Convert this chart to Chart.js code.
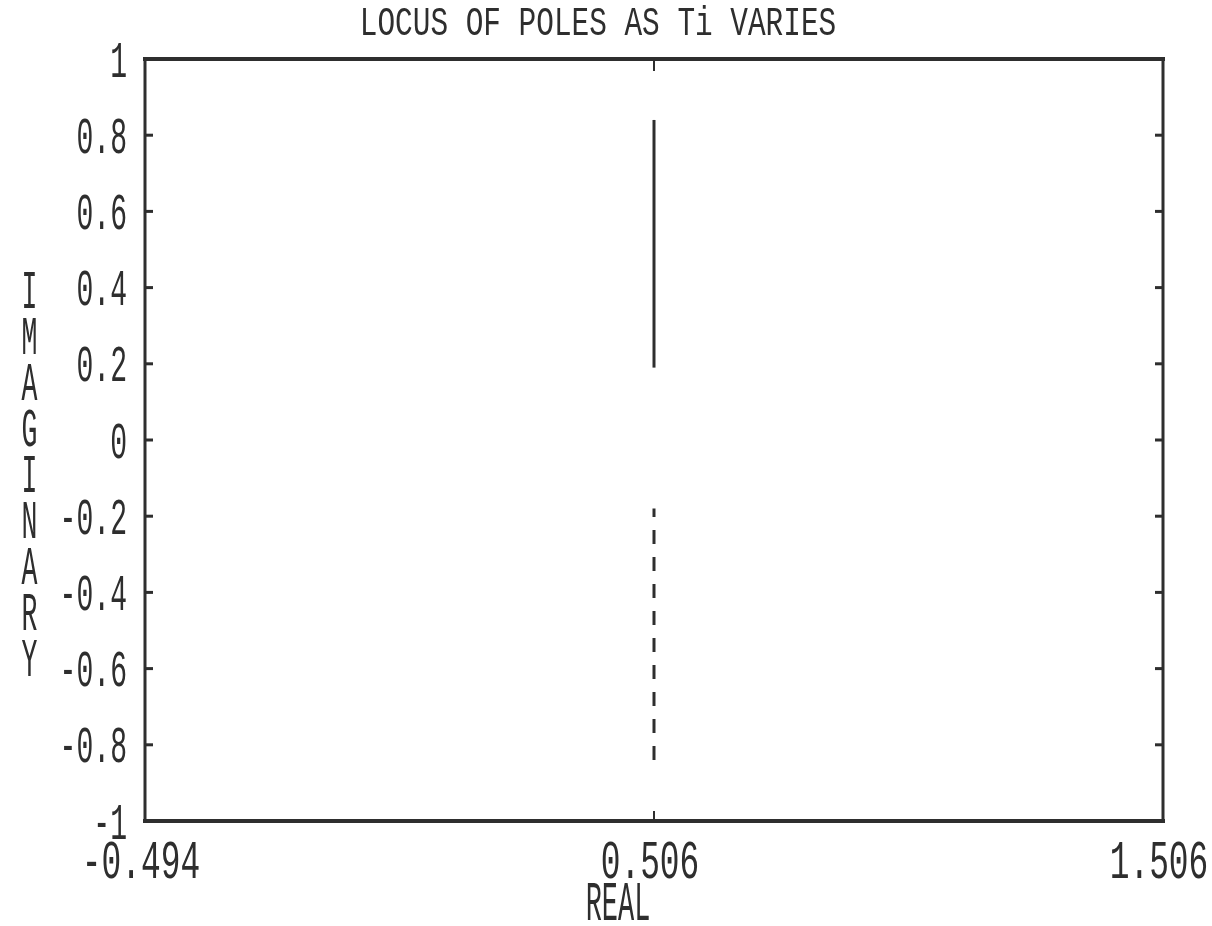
<!DOCTYPE html>
<html>
<head>
<meta charset="utf-8">
<script src="https://cdn.jsdelivr.net/npm/chart.js@4/dist/chart.umd.min.js"></script>
<style>
  html, body { margin: 0; padding: 0; background: #ffffff; }
  #wrap { width: 1212px; height: 926px; position: relative; }
</style>
</head>
<body>
<div id="wrap"><canvas id="locus"></canvas></div>
<script>
// Root locus data: real part is fixed, imaginary part sweeps as Ti varies
const titleText = 'LOCUS OF POLES AS Ti VARIES';
const xAxisTitle = 'REAL';
const yAxisTitle = 'IMAGINARY';

const upperReal = [0.506, 0.506];
const upperImag = [0.19, 0.84];
const lowerReal = [0.506, 0.506];
const lowerImag = [-0.84, -0.18];

const xTickValues = [-0.494, 0.506, 1.506];
const xTickLabels = ['-0.494', '0.506', '1.506'];
const yTickValues = [-1, -0.8, -0.6, -0.4, -0.2, 0, 0.2, 0.4, 0.6, 0.8, 1];
const yTickLabels = ['-1', '-0.8', '-0.6', '-0.4', '-0.2', '0', '0.2', '0.4', '0.6', '0.8', '1'];

const ink = '#2e2e2e';
const mono = '"Liberation Mono", "DejaVu Sans Mono", monospace';

// Draw condensed plotter-style text
function plotText(ctx, text, x, y, size, sx, align) {
  ctx.save();
  ctx.translate(x, y);
  ctx.scale(sx, 1);
  ctx.font = size + 'px ' + mono;
  ctx.textAlign = align;
  ctx.textBaseline = 'alphabetic';
  ctx.fillStyle = ink;
  ctx.fillText(text, 0, 0);
  ctx.restore();
}

// Frame, inward tick marks and all lettering, placed from the chart's scales
const plotterFrame = {
  id: 'plotterFrame',
  afterDatasetsDraw(chart) {
    const ctx = chart.ctx;
    const a = chart.chartArea;
    const xs = chart.scales.x;
    const ys = chart.scales.y;

    ctx.save();
    ctx.strokeStyle = ink;
    ctx.lineCap = 'square';
    // box
    ctx.lineWidth = 4;
    ctx.beginPath(); ctx.moveTo(a.left, a.top); ctx.lineTo(a.right, a.top); ctx.stroke();
    ctx.beginPath(); ctx.moveTo(a.left, a.bottom); ctx.lineTo(a.right, a.bottom); ctx.stroke();
    ctx.lineWidth = 3;
    ctx.beginPath(); ctx.moveTo(a.left, a.top); ctx.lineTo(a.left, a.bottom); ctx.stroke();
    ctx.beginPath(); ctx.moveTo(a.right, a.top); ctx.lineTo(a.right, a.bottom); ctx.stroke();

    // y ticks on both sides
    ctx.lineWidth = 3;
    ctx.lineCap = 'butt';
    yTickValues.forEach(v => {
      if (v === ys.min || v === ys.max) return;
      const py = ys.getPixelForValue(v);
      ctx.beginPath(); ctx.moveTo(a.left, py); ctx.lineTo(a.left + 8, py); ctx.stroke();
      ctx.beginPath(); ctx.moveTo(a.right - 8, py); ctx.lineTo(a.right, py); ctx.stroke();
    });
    // x ticks on top and bottom
    ctx.lineWidth = 2;
    xTickValues.forEach(v => {
      if (v === xs.min || v === xs.max) return;
      const px = xs.getPixelForValue(v);
      ctx.beginPath(); ctx.moveTo(px, a.top); ctx.lineTo(px, a.top + 12); ctx.stroke();
      ctx.beginPath(); ctx.moveTo(px, a.bottom); ctx.lineTo(px, a.bottom - 10); ctx.stroke();
    });
    ctx.restore();

    // tick labels
    yTickValues.forEach((v, i) => {
      const py = ys.getPixelForValue(v);
      plotText(ctx, yTickLabels[i], a.left - 18, py + 17.5, 52, 0.54, 'right');
    });
    xTickValues.forEach((v, i) => {
      const px = xs.getPixelForValue(v);
      plotText(ctx, xTickLabels[i], px - 4, a.bottom + 57, 53, 0.62, 'center');
    });

    // titles
    plotText(ctx, titleText, 598, 35, 40, 0.735, 'center');
    plotText(ctx, xAxisTitle, 618, 920, 56, 0.48, 'center');
    const letters = yAxisTitle.split('');
    letters.forEach((ch, i) => {
      plotText(ctx, ch, 29.5, 290 + i * 46 + 17.5, 53, 0.5, 'center');
    });
  }
};

new Chart(document.getElementById('locus'), {
  type: 'scatter',
  data: {
    datasets: [
      {
        label: 'upper',
        data: upperReal.map((x, i) => ({ x: x, y: upperImag[i] })),
        showLine: true,
        borderColor: ink,
        borderWidth: 3,
        pointRadius: 0,
        fill: false
      },
      {
        label: 'lower',
        data: lowerReal.map((x, i) => ({ x: x, y: lowerImag[i] })),
        showLine: true,
        borderColor: ink,
        borderWidth: 3,
        borderDash: [14, 13],
        pointRadius: 0,
        fill: false
      }
    ]
  },
  options: {
    responsive: true,
    maintainAspectRatio: false,
    animation: false,
    layout: { padding: { left: 145, right: 49, top: 59, bottom: 105 } },
    plugins: {
      legend: { display: false },
      tooltip: { enabled: false },
      title: { display: false }
    },
    scales: {
      x: { type: 'linear', min: -0.494, max: 1.506, display: false },
      y: { type: 'linear', min: -1, max: 1, display: false }
    }
  },
  plugins: [plotterFrame]
});
</script>
</body>
</html>
